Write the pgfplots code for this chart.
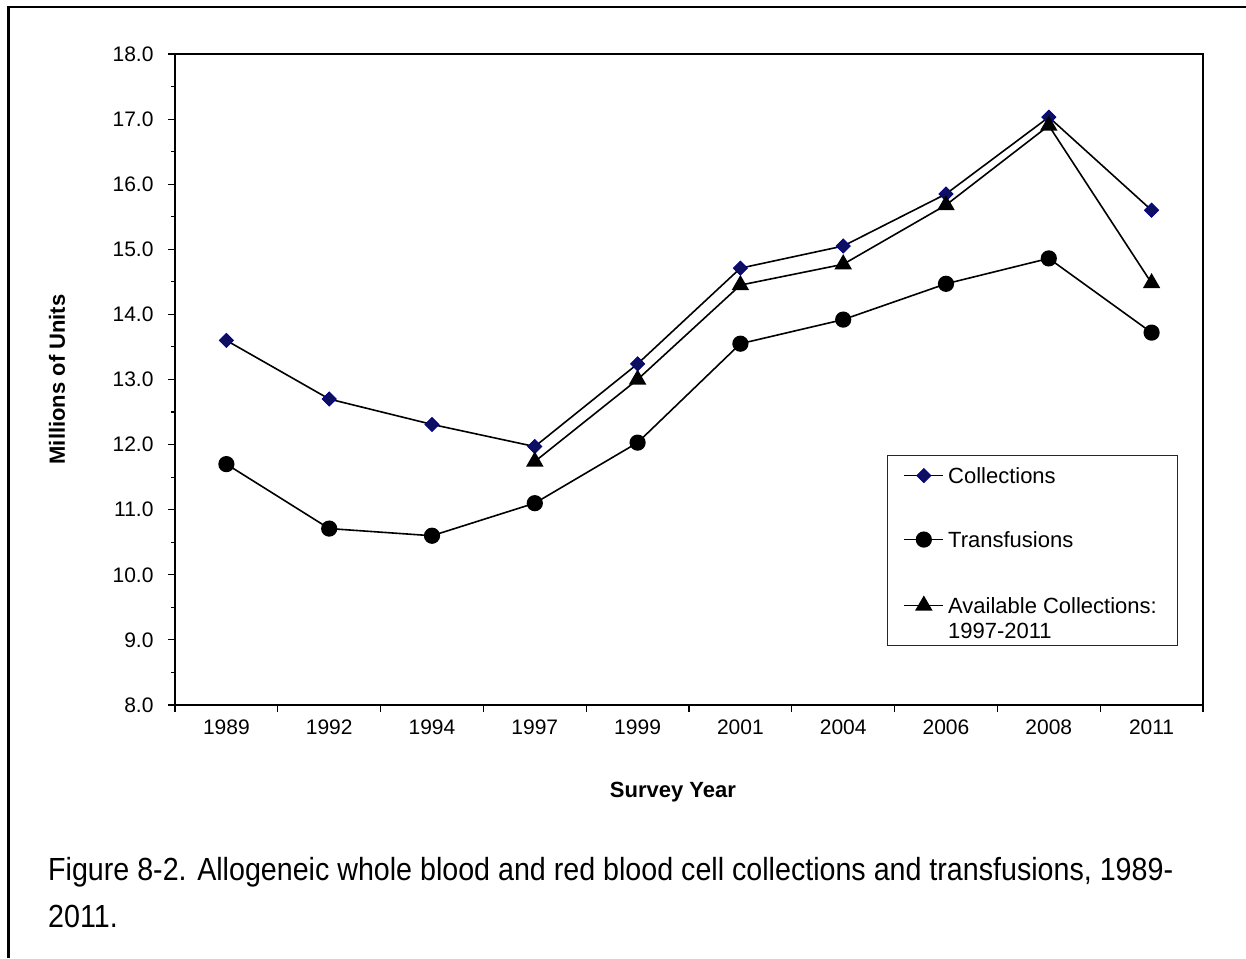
\documentclass[border=0pt]{standalone}
\usepackage{fontspec}
\setmainfont{Liberation Sans}
\newfontfamily\capfont[FakeStretch=0.895]{Liberation Sans}
\usepackage{pgfplots}
\pgfplotsset{compat=1.18}
\definecolor{mknavy}{RGB}{15,15,95}
\definecolor{mkedge}{RGB}{0,0,150}
\begin{document}
\begin{tikzpicture}
\path[use as bounding box] (0,0) rectangle (1246pt,958pt);
\draw[line width=3pt] (8.3pt,0pt) -- (8.3pt,952.4pt);
\draw[line width=2.4pt] (6.8pt,951.2pt) -- (1246pt,951.2pt);
\begin{axis}[
  at={(175pt,253pt)}, anchor=south west,
  width=1028pt, height=651pt, scale only axis,
  xmin=-0.5, xmax=9.5, ymin=8, ymax=18,
  axis line style={line width=1.8pt},
  tick align=outside, tick pos=left,
  major tick length=7pt, minor tick length=4pt,
  tick style={line width=1.1pt, black},
  xtick={-0.5,0.5,1.5,2.5,3.5,4.5,5.5,6.5,7.5,8.5,9.5},
  xticklabels={,,,,,,,,,,},
  extra x ticks={0,1,2,3,4,5,6,7,8,9},
  extra x tick labels={1989,1992,1994,1997,1999,2001,2004,2006,2008,2011},
  extra x tick style={tick style={draw=none}},
  xticklabel style={yshift=-4pt},
  ytick={8,9,...,18}, minor y tick num=1,
  yticklabel={\pgfmathprintnumber[fixed,fixed zerofill,precision=1,assume math mode=true]{\tick}},
  yticklabel style={xshift=-11pt},
  tick label style={font=\fontsize{21}{25}\selectfont},
  xlabel={Survey Year},
  xlabel style={font=\bfseries\fontsize{22}{26}\selectfont, at={(axis description cs:0.4844,-0.14286)}, anchor=base},
  ylabel={Millions of Units},
  ylabel style={font=\bfseries\fontsize{22}{26}\selectfont, at={(axis description cs:-0.1148,0.5)}, anchor=center},
  every axis plot/.append style={line width=1.6pt, black},
  legend style={at={(rel axis cs:0.6926,0.3840)}, anchor=north west, draw=black!85, line width=1.1pt,
    inner xsep=16pt, inner ysep=6pt, row sep=0pt, column sep=4pt,
    font=\fontsize{22}{26}\selectfont, nodes={inner sep=0pt, text depth=, text height=}},
  legend cell align=left,
  legend image code/.code={\draw[mark repeat=2,mark phase=2] plot coordinates {(0pt,0pt) (19.5pt,0pt) (39pt,0pt)};},
]
\addplot[mark=square*, mark size=5pt, mark options={rotate=45, fill=mknavy, draw=mkedge, line width=0.8pt}]
  coordinates {(0,13.6) (1,12.7) (2,12.31) (3,11.97) (4,13.24) (5,14.71) (6,15.05) (7,15.85) (8,17.03) (9,15.6)};
\addlegendentry{\rule[-6.5pt]{0pt}{28pt}\makebox[213pt][l]{Collections}}
\addplot[mark=*, mark size=7.3pt, mark options={fill=black}]
  coordinates {(0,11.7) (1,10.71) (2,10.6) (3,11.1) (4,12.03) (5,13.55) (6,13.92) (7,14.47) (8,14.86) (9,13.72)};
\addlegendentry{\rule[-42.5pt]{0pt}{100pt}\makebox[213pt][l]{Transfusions}}
\addplot[mark=triangle*, mark size=8.5pt, mark options={fill=black}]
  coordinates {(3,11.74) (4,13.0) (5,14.45) (6,14.77) (7,15.68) (8,16.9) (9,14.48)};
\addlegendentry{\rule[-8.5pt]{0pt}{32pt}\makebox[213pt][l]{Available Collections:}}
\addlegendimage{empty legend}
\addlegendentry{\rule[-1.5pt]{0pt}{18pt}\makebox[213pt][l]{1997-2011}}
\end{axis}
\node[anchor=base west, inner sep=0pt, font=\capfont\fontsize{32}{38}\selectfont] at (48pt,78pt)
  {Figure 8-2. Allogeneic whole blood and red blood cell collections and transfusions, 1989-};
\node[anchor=base west, inner sep=0pt, font=\capfont\fontsize{32}{38}\selectfont] at (48pt,31pt) {2011.};
\end{tikzpicture}
\end{document}
